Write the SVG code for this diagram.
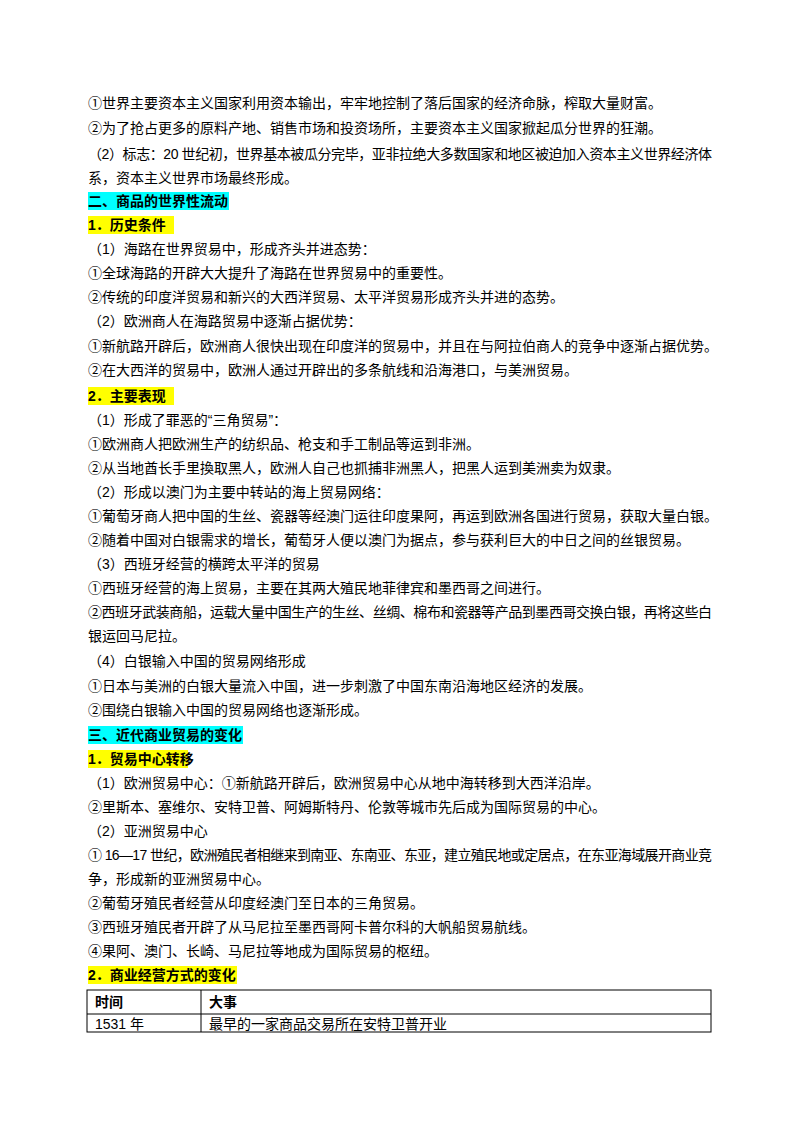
<svg xmlns="http://www.w3.org/2000/svg" width="800" height="1132" viewBox="0 0 800 1132">
<style>
text{font-family:"Liberation Sans","Noto Sans CJK SC",sans-serif;font-size:14px;fill:#000}
.b{font-weight:bold}
.cy{fill:#00ffff}.ye{fill:#ffff00}
.tb{fill:none;stroke:#000;stroke-width:1}
</style>
<rect width="800" height="1132" fill="#fff"/>
<rect class="cy" x="88" y="192" width="141" height="18"/>
<rect class="ye" x="88" y="216" width="86" height="18"/>
<rect class="ye" x="88" y="387" width="86" height="18"/>
<rect class="cy" x="88" y="726" width="155" height="18"/>
<rect class="ye" x="88" y="750" width="100" height="18"/>
<rect class="ye" x="88" y="966" width="149" height="18"/>
<text x="88" y="108">①世界主要资本主义国家利用资本输出，牢牢地控制了落后国家的经济命脉，榨取大量财富。</text>
<text x="88" y="133">②为了抢占更多的原料产地、销售市场和投资场所，主要资本主义国家掀起瓜分世界的狂潮。</text>
<text x="88" y="159" textLength="624">（2）标志：20 世纪初，世界基本被瓜分完毕，亚非拉绝大多数国家和地区被迫加入资本主义世界经济体</text>
<text x="88" y="183">系，资本主义世界市场最终形成。</text>
<text x="88" y="206" class="b">二、商品的世界性流动</text>
<text x="88" y="230" class="b">1．历史条件</text>
<text x="88" y="254">（1）海路在世界贸易中，形成齐头并进态势：</text>
<text x="88" y="278">①全球海路的开辟大大提升了海路在世界贸易中的重要性。</text>
<text x="88" y="302">②传统的印度洋贸易和新兴的大西洋贸易、太平洋贸易形成齐头并进的态势。</text>
<text x="88" y="326">（2）欧洲商人在海路贸易中逐渐占据优势：</text>
<text x="88" y="351">①新航路开辟后，欧洲商人很快出现在印度洋的贸易中，并且在与阿拉伯商人的竞争中逐渐占据优势。</text>
<text x="88" y="375">②在大西洋的贸易中，欧洲人通过开辟出的多条航线和沿海港口，与美洲贸易。</text>
<text x="88" y="401" class="b">2．主要表现</text>
<text x="88" y="425">（1）形成了罪恶的“三角贸易”：</text>
<text x="88" y="449">①欧洲商人把欧洲生产的纺织品、枪支和手工制品等运到非洲。</text>
<text x="88" y="473">②从当地酋长手里換取黑人，欧洲人自己也抓捕非洲黑人，把黑人运到美洲卖为奴隶。</text>
<text x="88" y="497">（2）形成以澳门为主要中转站的海上贸易网络：</text>
<text x="88" y="521">①葡萄牙商人把中国的生丝、瓷器等经澳门运往印度果阿，再运到欧洲各国进行贸易，获取大量白银。</text>
<text x="88" y="545">②随着中国对白银需求的增长，葡萄牙人便以澳门为据点，参与获利巨大的中日之间的丝银贸易。</text>
<text x="88" y="569">（3）西班牙经营的横跨太平洋的贸易</text>
<text x="88" y="593">①西班牙经营的海上贸易，主要在其两大殖民地菲律宾和墨西哥之间进行。</text>
<text x="88" y="617" textLength="624">②西班牙武装商船，运载大量中国生产的生丝、丝绸、棉布和瓷器等产品到墨西哥交换白银，再将这些白</text>
<text x="88" y="641">银运回马尼拉。</text>
<text x="88" y="666">（4）白银输入中国的贸易网络形成</text>
<text x="88" y="691">①日本与美洲的白银大量流入中国，进一步刺激了中国东南沿海地区经济的发展。</text>
<text x="88" y="715">②围绕白银输入中国的贸易网络也逐渐形成。</text>
<text x="88" y="740" class="b">三、近代商业贸易的变化</text>
<text x="88" y="764" class="b">1．贸易中心转移</text>
<text x="88" y="788">（1）欧洲贸易中心：①新航路开辟后，欧洲贸易中心从地中海转移到大西洋沿岸。</text>
<text x="88" y="812">②里斯本、塞维尔、安特卫普、阿姆斯特丹、伦敦等城市先后成为国际贸易的中心。</text>
<text x="88" y="836">（2）亚洲贸易中心</text>
<text x="88" y="860" textLength="624">① 16—17 世纪，欧洲殖民者相继来到南亚、东南亚、东亚，建立殖民地或定居点，在东亚海域展开商业竞</text>
<text x="88" y="884">争，形成新的亚洲贸易中心。</text>
<text x="88" y="908">②葡萄牙殖民者经营从印度经澳门至日本的三角贸易。</text>
<text x="88" y="932">③西班牙殖民者开辟了从马尼拉至墨西哥阿卡普尔科的大帆船贸易航线。</text>
<text x="88" y="956">④果阿、澳门、长崎、马尼拉等地成为国际贸易的枢纽。</text>
<text x="88" y="980" class="b">2．商业经营方式的变化</text>
<g>
<rect class="tb" x="87" y="990" width="624" height="42"/>
<line class="tb" x1="87" y1="1014" x2="711" y2="1014"/>
<line class="tb" x1="201" y1="990" x2="201" y2="1032"/>
</g>
<text x="95" y="1007" class="b">时间</text>
<text x="209" y="1007" class="b">大事</text>
<text x="95" y="1029">1531 年</text>
<text x="209" y="1029">最早的一家商品交易所在安特卫普开业</text>
</svg>
